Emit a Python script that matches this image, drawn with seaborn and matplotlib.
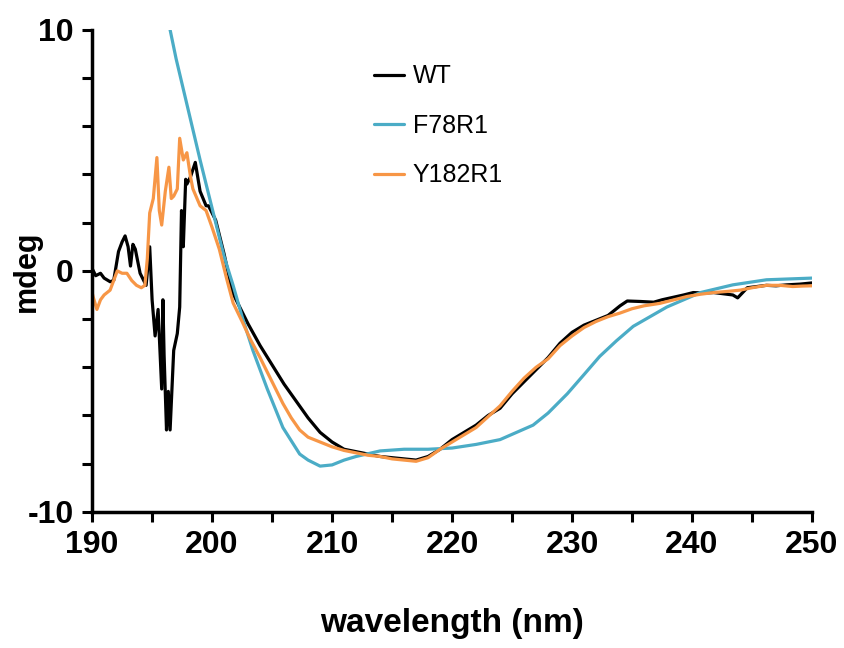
import numpy as np
import pandas as pd
import seaborn as sns
import matplotlib.pyplot as plt
from matplotlib.ticker import MultipleLocator

# CD spectra (mdeg vs wavelength)
wt_x = [190.0, 190.3, 190.7, 191.0, 191.5, 191.8, 192.2, 192.5, 192.75, 193.0, 193.2, 193.4,
        193.6, 194.0, 194.5, 194.8, 195.0, 195.25, 195.5, 195.8, 195.9, 196.0, 196.2, 196.35,
        196.5, 196.8, 197.1, 197.3, 197.45, 197.6, 197.8, 197.9, 198.2, 198.6, 199.0, 199.5,
        199.7, 200.3, 201.0, 201.7, 202.3, 203, 204, 205, 206, 207, 208, 209, 210, 211, 212,
        213, 214, 215, 216, 217, 218, 219, 220, 221, 222, 223, 224, 225, 226, 227, 228, 229,
        230, 231, 232, 233, 234, 234.6, 235.7, 236.8, 237.5, 238.4, 239.3, 240.1, 241, 241.8,
        242.6, 243.4, 243.8, 244.6, 245.4, 246.2, 247, 247.9, 249, 250]
wt_y = [0.1, -0.2, -0.1, -0.3, -0.45, -0.4, 0.8, 1.2, 1.45, 1.0, 0.2, 1.1,
        0.9, -0.1, -0.6, 1.0, -1.2, -2.7, -1.6, -4.9, -1.2, -3.5, -6.6, -5.0,
        -6.6, -3.3, -2.6, -1.5, 2.5, 1.0, 3.8, 3.6, 3.9, 4.5, 3.3, 2.7,
        2.7, 2.1, 0.7, -0.9, -1.5, -2.2, -3.1, -3.9, -4.7, -5.4, -6.1, -6.7, -7.1, -7.4, -7.5,
        -7.6, -7.7, -7.75, -7.8, -7.85, -7.7, -7.4, -7.0, -6.7, -6.4, -6.0, -5.7, -5.1, -4.6, -4.1, -3.6, -3.0,
        -2.55, -2.25, -2.05, -1.85, -1.45, -1.25, -1.27, -1.3, -1.2, -1.1, -1.0, -0.9, -0.92, -0.9,
        -0.95, -1.0, -1.12, -0.7, -0.65, -0.6, -0.62, -0.58, -0.55, -0.5]

f78_x = [196.0, 196.5, 197, 198, 199, 200, 201, 201.75, 202.5, 203.4, 204.6, 205.9, 207.3,
         208, 209, 210, 211, 212, 214, 216, 218, 220, 222, 224, 226.75, 228, 229.6, 231,
         232.3, 233.7, 235.1, 237.9, 240.7, 243.4, 246.2, 250]
f78_y = [10.8, 10.0, 8.8, 6.7, 4.6, 2.6, 0.6, -0.6, -1.9, -3.3, -4.9, -6.5, -7.6,
         -7.85, -8.1, -8.05, -7.85, -7.7, -7.47, -7.4, -7.4, -7.35, -7.2, -7.0, -6.4, -5.9, -5.1, -4.3,
         -3.55, -2.9, -2.3, -1.5, -0.9, -0.58, -0.37, -0.3]

y182_x = [190.0, 190.1, 190.4, 190.7, 191.0, 191.5, 192.1, 192.5, 192.9, 193.3, 193.7, 194.1,
          194.4, 194.6, 194.8, 195.1, 195.4, 195.6, 195.8, 196.1, 196.4, 196.6, 196.8, 197.1,
          197.3, 197.6, 197.9, 198.2, 198.4, 199.0, 199.5, 200.0, 200.6, 201.2, 201.75, 202.5,
          203.2, 204.0, 204.6, 205.3, 205.9, 206.6, 207.3, 208, 209, 210, 211, 212, 213, 214,
          215, 216, 217, 218, 219, 220, 221, 222, 223, 224, 225, 226, 227, 228, 229, 230, 231,
          232, 233, 234, 235, 236, 237.3, 238.5, 239.6, 240.7, 241.8, 243, 244, 245, 246.2,
          247.3, 248.4, 249.2, 250]
y182_y = [-0.9, -1.1, -1.6, -1.2, -1.0, -0.8, 0.0, -0.1, -0.1, -0.4, -0.6, -0.7,
          -0.6, 0.5, 2.4, 3.0, 4.7, 2.5, 1.9, 3.3, 4.3, 3.0, 3.1, 3.4,
          5.5, 4.6, 4.9, 3.9, 3.4, 2.7, 2.5, 1.8, 0.9, -0.3, -1.33, -2.1,
          -2.85, -3.6, -4.2, -4.9, -5.5, -6.1, -6.6, -6.9, -7.1, -7.3, -7.45, -7.55, -7.65, -7.7,
          -7.8, -7.85, -7.9, -7.75, -7.4, -7.1, -6.8, -6.5, -6.05, -5.6, -5.0, -4.45, -4.0, -3.65, -3.1, -2.7, -2.35,
          -2.1, -1.9, -1.75, -1.57, -1.45, -1.35, -1.2, -1.06, -0.97, -0.9, -0.85, -0.8, -0.7, -0.6,
          -0.6, -0.65, -0.63, -0.62]

df = pd.concat([
    pd.DataFrame({"wavelength": wt_x, "mdeg": wt_y, "sample": "WT"}),
    pd.DataFrame({"wavelength": f78_x, "mdeg": f78_y, "sample": "F78R1"}),
    pd.DataFrame({"wavelength": y182_x, "mdeg": y182_y, "sample": "Y182R1"}),
])

sns.set_style("ticks")
plt.rcParams['font.family'] = ['Liberation Sans', 'DejaVu Sans']
plt.rcParams['axes.unicode_minus'] = False
for k in ['text.color', 'axes.labelcolor', 'xtick.color', 'ytick.color']:
    plt.rcParams[k] = 'black'

fig = plt.figure(figsize=(8.45, 6.48), dpi=100)
ax = fig.add_axes([0.109, 0.210, 0.852, 0.744])

palette = {"WT": "#000000", "F78R1": "#4BACC6", "Y182R1": "#F79646"}
sns.lineplot(data=df, x="wavelength", y="mdeg", hue="sample", palette=palette,
             estimator=None, sort=False, linewidth=2.3, ax=ax)

ax.set_xlim(190, 250)
ax.set_ylim(-10, 10)
ax.xaxis.set_major_locator(MultipleLocator(10))
ax.xaxis.set_minor_locator(MultipleLocator(5))
ax.yaxis.set_major_locator(MultipleLocator(10))
ax.yaxis.set_minor_locator(MultipleLocator(2))
ax.tick_params(which="both", direction="out", length=7, width=2.2, color="black")
ax.tick_params(which="major", labelsize=23, pad=6, labelcolor="black")
for lbl in ax.get_xticklabels() + ax.get_yticklabels():
    lbl.set_fontweight("bold")

sns.despine(ax=ax)
for s in ["left", "bottom"]:
    ax.spines[s].set_linewidth(2.5)
    ax.spines[s].set_color("black")

ax.set_xlabel("wavelength (nm)", fontsize=24, fontweight="bold")
ax.set_ylabel("mdeg", fontsize=22, fontweight="bold")
ax.xaxis.set_label_coords(0.5, -0.2)
ax.yaxis.set_label_coords(-0.07, 0.5)

ax.legend(title=None, frameon=False, fontsize=18, loc="upper left",
          bbox_to_anchor=(0.36, 0.975), handlelength=1.2, handletextpad=0.35,
          labelspacing=1.02)

fig.savefig("out.png", dpi=100)
